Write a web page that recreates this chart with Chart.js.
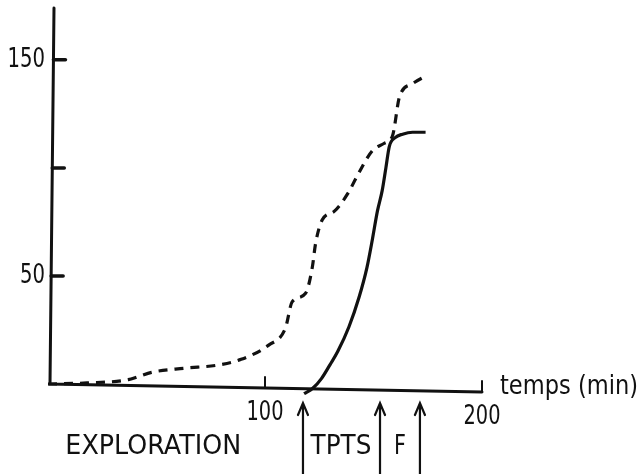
<!DOCTYPE html>
<html>
<head>
<meta charset="utf-8">
<script src="https://cdn.jsdelivr.net/npm/chart.js@4"></script>
<style>
  html, body { margin: 0; padding: 0; background: #fff; }
  #wrap { width: 640px; height: 474px; }
</style>
</head>
<body>
<div id="wrap"><canvas id="chart"></canvas></div>
<script>
/* ── data ── */
const dashX  = [0, 18, 37, 41.5, 47.7, 63, 78.5, 89, 101.7, 109.4, 112.5, 118.7, 121.8, 123.3, 126.4, 132, 138.7, 141.8, 149.5, 155, 158.8, 162, 168, 175];
const dashY  = [0, 0.5, 2, 3.4, 5.4, 7.3, 8.8, 11.4, 18, 25.8, 38, 42, 54, 65, 76, 80, 89, 95, 108, 111.4, 115, 133, 139, 143];
const solidX = [118, 122, 126, 130, 133.5, 138.7, 143.3, 147, 149.5, 151.8, 154, 155.7, 157.3, 160, 163.4, 168, 174];
const solidY = [-4.5, -2, 2.5, 9, 15, 26.5, 40, 54, 67, 80, 89.5, 100, 110, 114, 115.6, 116.5, 116.5];

const yTicks = [50, 100, 150];
const yLabels = ['50', '', '150'];
const xTicks = [100, 200];
const xLabels = ['100', '200'];
const arrowsAt = [117.5, 153, 171.4];
const phases = [
  { text: 'EXPLORATION', from: 8,     to: 89 },
  { text: 'TPTS',        from: 121,   to: 149 },
  { text: 'F',           from: 159.5, to: 165 },
];

const INK = '#111';
const FONT = '27px "DejaVu Sans", "Liberation Sans", sans-serif';

const pts = (xs, ys) => xs.map((x, i) => ({ x, y: ys[i] }));

/* ── hand-drawn axes, ticks, arrows and captions ── */
const figurePlugin = {
  id: 'figure',
  afterDraw(chart) {
    const { ctx } = chart;
    const xs = chart.scales.x, ys = chart.scales.y;
    const x0 = xs.getPixelForValue(0), y0 = ys.getPixelForValue(0);
    const xEnd = xs.getPixelForValue(200);
    ctx.save();
    ctx.strokeStyle = INK;
    ctx.fillStyle = INK;
    ctx.lineCap = 'round';

    // axes (slightly skewed, like the scan)
    ctx.lineWidth = 3;
    ctx.beginPath();
    ctx.moveTo(x0 + 6, 8);
    ctx.lineTo(x0 + 2, y0);
    ctx.lineTo(xEnd, y0 + 8);
    ctx.stroke();

    // y ticks (inside)
    ctx.lineWidth = 3.5;
    yTicks.forEach(v => {
      const py = ys.getPixelForValue(v);
      const ax = x0 + 2 + (y0 - py) / (y0 - 8) * 4;
      ctx.beginPath();
      ctx.moveTo(ax, py);
      ctx.lineTo(ax + 12, py);
      ctx.stroke();
    });

    // x ticks (upward)
    ctx.lineWidth = 2;
    xTicks.forEach(v => {
      const px = xs.getPixelForValue(v);
      const by = y0 + (px - x0) / (xEnd - x0) * 8;
      ctx.beginPath();
      ctx.moveTo(px, by);
      ctx.lineTo(px, by - 11);
      ctx.stroke();
    });

    // tick labels
    ctx.font = FONT;
    ctx.textBaseline = 'middle';
    ctx.textAlign = 'right';
    yTicks.forEach((v, i) => {
      if (!yLabels[i]) return;
      const py = ys.getPixelForValue(v);
      ctx.fillText(yLabels[i], x0 - 3, py, yLabels[i].length * 12.5);
    });
    ctx.textAlign = 'center';
    xTicks.forEach((v, i) => {
      const px = xs.getPixelForValue(v);
      ctx.fillText(xLabels[i], px, y0 + 29 + i * 4, 37);
    });

    // axis title
    ctx.textAlign = 'left';
    ctx.fillText('temps (min)', xEnd + 18, y0 + 3, 138);

    // phase arrows
    ctx.lineWidth = 2.2;
    arrowsAt.forEach(v => {
      const px = xs.getPixelForValue(v);
      const tip = y0 + 19;
      ctx.beginPath();
      ctx.moveTo(px, chart.height);
      ctx.lineTo(px, tip);
      ctx.moveTo(px - 5, tip + 12);
      ctx.lineTo(px, tip);
      ctx.lineTo(px + 5, tip + 12);
      ctx.stroke();
    });

    // phase captions
    ctx.textAlign = 'center';
    phases.forEach(p => {
      const a = xs.getPixelForValue(p.from), b = xs.getPixelForValue(p.to);
      ctx.fillText(p.text, (a + b) / 2, y0 + 63, b - a);
    });
    ctx.restore();
  }
};

new Chart(document.getElementById('chart'), {
  type: 'line',
  data: {
    datasets: [
      {
        data: pts(dashX, dashY),
        borderColor: INK,
        borderWidth: 3.2,
        borderDash: [9, 7],
        pointRadius: 0,
        cubicInterpolationMode: 'monotone',
        fill: false,
        clip: 12,
      },
      {
        data: pts(solidX, solidY),
        borderColor: INK,
        borderWidth: 3.2,
        pointRadius: 0,
        cubicInterpolationMode: 'monotone',
        fill: false,
        clip: 12,
      }
    ]
  },
  options: {
    responsive: true,
    maintainAspectRatio: false,
    animation: false,
    layout: { padding: { left: 48, right: 158, top: 8, bottom: 90 } },
    plugins: { legend: { display: false }, tooltip: { enabled: false } },
    scales: {
      x: { type: 'linear', min: 0, max: 200, display: false },
      y: { type: 'linear', min: 0, max: 174, display: false },
    }
  },
  plugins: [figurePlugin]
});
</script>
</body>
</html>
